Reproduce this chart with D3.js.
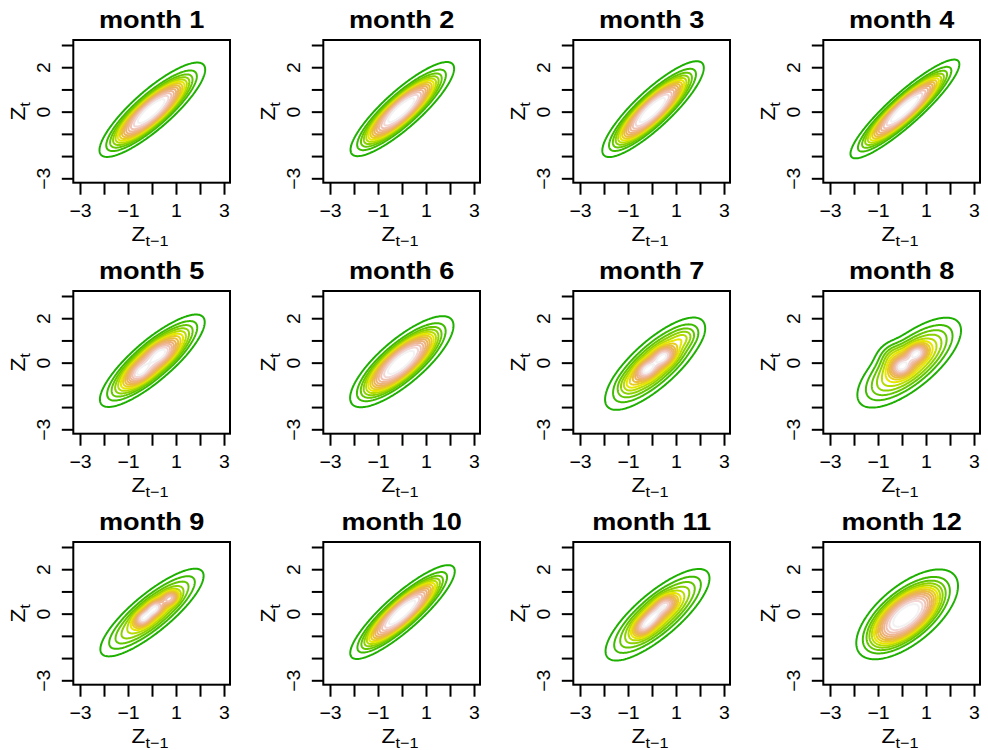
<!DOCTYPE html>
<html>
<head>
<meta charset="utf-8">
<script src="https://cdn.jsdelivr.net/npm/d3@7"></script>
<style>
  body { margin: 0; background: #fff; }
  text { font-family: "Liberation Sans", Arial, Helvetica, sans-serif; }
</style>
</head>
<body>
<div id="chart"></div>
<script>
// panel titles
const titles = d3.range(1, 13).map(m => `month ${m}`);
const axisTicks = [-3, -2, -1, 0, 1, 2, 3];
const xTickLabels = [-3, -1, 1, 3];
const yTickLabels = [-3, 0, 2];

// density of (Z_{t-1}, Z_t) for each month, read off the contours as a few bumps:
// [meanX, meanY, sdX, sdY, rho, height, power]  (power > 1 = flatter top, 1 = gaussian)
const month1 = [[-0.05, 0.00, 0.97, 0.93, 0.86, 1, 1.5], [0.10, 0.20, 1.45, 1.40, 0.84, 0.2, 1]];
const month2 = [[-0.05, 0.05, 0.95, 0.93, 0.87, 1, 1.5], [0.10, 0.20, 1.42, 1.40, 0.85, 0.2, 1]];
const month3 = [[0.00, 0.05, 0.93, 0.95, 0.87, 1, 1.5], [0.10, 0.20, 1.40, 1.42, 0.85, 0.2, 1]];
const month4 = [[0.10, 0.10, 1.00, 0.98, 0.91, 1, 1.5], [0.15, 0.15, 1.50, 1.47, 0.90, 0.2, 1]];
const month5 = [[0.00, 0.08, 1.05, 1.00, 0.84, 1, 1.5], [-0.50, -0.45, 0.35, 0.33, 0.50, 0.5, 1],
                [0.35, 0.40, 0.40, 0.35, 0.50, 0.5, 1], [0.05, 0.10, 1.52, 1.45, 0.82, 0.2, 1]];
const month6 = [[-0.05, 0.00, 0.95, 0.90, 0.80, 1, 1.5], [0.05, 0.10, 1.42, 1.36, 0.78, 0.2, 1]];
const month7 = [[0.12, -0.05, 1.10, 1.10, 0.78, 1, 1.5], [-0.22, -0.33, 0.32, 0.30, 0.40, 1.6, 1],
                [0.47, 0.27, 0.32, 0.30, 0.40, 1.6, 1], [-0.90, -0.90, 0.30, 0.30, 0.30, 0.35, 1],
                [1.30, 1.10, 0.35, 0.30, 0.40, 0.3, 1], [0.12, -0.05, 1.55, 1.55, 0.76, 0.25, 1]];
const month8 = [[0.30, 0.00, 1.12, 1.05, 0.72, 1, 1.5], [0.00, -0.18, 0.30, 0.28, 0.30, 1.4, 1],
                [0.61, 0.42, 0.28, 0.26, 0.30, 1.4, 1], [-0.45, 0.35, 0.35, 0.35, 0.20, 0.35, 1],
                [0.30, 0.00, 1.60, 1.50, 0.70, 0.25, 1]];
const month9 = [[0.00, 0.05, 1.15, 1.05, 0.84, 1, 1.5], [-0.36, -0.21, 0.25, 0.24, 0.40, 1.6, 1],
                [0.12, 0.24, 0.25, 0.24, 0.40, 1.6, 1], [0.75, 0.69, 0.22, 0.20, 0.30, 1.4, 1],
                [0.00, 0.05, 1.60, 1.50, 0.82, 0.25, 1]];
const month10 = [[0.00, 0.05, 0.96, 0.93, 0.88, 1, 1.5], [0.05, 0.10, 1.44, 1.40, 0.86, 0.2, 1]];
const month11 = [[0.23, -0.05, 1.14, 1.08, 0.80, 1, 1.5], [-0.36, -0.59, 0.28, 0.28, 0.40, 1.2, 1],
                 [0.05, -0.14, 0.28, 0.28, 0.40, 1.2, 1], [0.54, 0.39, 0.30, 0.28, 0.40, 1.3, 1],
                 [0.23, -0.05, 1.60, 1.55, 0.78, 0.25, 1]];
const month12 = [[0.15, -0.10, 0.93, 0.88, 0.64, 1, 1.5], [0.30, 0.05, 1.40, 1.35, 0.62, 0.2, 1]];
const mixtures = [month1, month2, month3, month4, month5, month6,
                  month7, month8, month9, month10, month11, month12];

const nLevels = 14;

const W = 988, H = 750;
const COL_W = 250, ROW_H = 251;
const BOX = { left: 73.3, right: 230, top: 40, bottom: 182.7 };

// R's terrain.colors(n)
function hsv(h, s, v) {
  const i = Math.floor(h * 6), f = h * 6 - i;
  const p = v * (1 - s), q = v * (1 - f * s), t = v * (1 - (1 - f) * s);
  const [r, g, b] = [[v, t, p], [q, v, p], [p, v, t], [p, q, v], [t, p, v], [v, p, q]][i % 6];
  return d3.rgb(r * 255, g * 255, b * 255).formatHex();
}
function terrainColors(n) {
  const k = Math.floor(n / 2), out = [];
  for (let i = 0; i < k; i++) {
    const t = k > 1 ? i / (k - 1) : 0;
    out.push(hsv(4 / 12 - t * 2 / 12, 1, 0.65 + t * 0.25));
  }
  for (let j = 1; j <= n - k; j++) {
    const t = j / (n - k);
    out.push(hsv(2 / 12 * (1 - t), 1 - t, 0.9 + 0.05 * t));
  }
  return out;
}
// the first colour belongs to the zero level, which never shows
const colors = terrainColors(nLevels + 1).slice(1);

function density(comps, x, y) {
  let s = 0;
  for (const [mx, my, sx, sy, r, h, p] of comps) {
    const u = (x - mx) / sx, v = (y - my) / sy;
    const q = (u * u - 2 * r * u * v + v * v) / (1 - r * r);
    s += h * Math.exp(-Math.pow(q / 2, p));
  }
  return s;
}

const x = d3.scaleLinear().domain([-3, 3]).range([80, 224]);
const y = d3.scaleLinear().domain([-3, 3]).range([178.3, 45]);
const fmt = d => d < 0 ? "\u2212" + Math.abs(d) : String(d);

// evaluation grid
const g0 = -3.4, step = 0.04, n = Math.round(6.8 / step) + 1;

const svg = d3.select("#chart").append("svg")
  .attr("width", W).attr("height", H);

mixtures.forEach((comps, idx) => {
  const col = idx % 4, row = Math.floor(idx / 4);
  const panel = svg.append("g")
    .attr("transform", `translate(${col * COL_W}, ${row * ROW_H})`);

  const values = new Float64Array(n * n);
  for (let j = 0; j < n; j++)
    for (let i = 0; i < n; i++)
      values[j * n + i] = density(comps, g0 + i * step, g0 + j * step);
  const zmax = d3.max(values);
  const levels = d3.range(1, nLevels + 1).map(i => i * zmax / (nLevels + 1));

  const contours = d3.contours().size([n, n]).thresholds(levels)(values);
  const proj = d3.geoTransform({
    point(px, py) {
      this.stream.point(x(g0 + (px - 0.5) * step), y(g0 + (py - 0.5) * step));
    }
  });
  const path = d3.geoPath(proj);

  panel.append("g")
    .selectAll("path")
    .data(contours)
    .join("path")
      .attr("d", path)
      .attr("fill", "none")
      .attr("stroke", (d, i) => colors[i])
      .attr("stroke-width", 2)
      .attr("stroke-linejoin", "round");

  // x axis
  const xAxis = panel.append("g")
    .attr("transform", `translate(0, ${BOX.bottom})`)
    .call(d3.axisBottom(x).tickValues(axisTicks).tickSize(12).tickSizeOuter(0)
      .tickFormat(d => xTickLabels.includes(d) ? fmt(d) : ""));
  xAxis.select(".domain").remove();
  xAxis.selectAll("line").attr("stroke-width", 2);
  xAxis.selectAll("text")
    .attr("y", 0).attr("dy", 0)
    .attr("transform", "translate(0, 34.3) scale(1.08, 1)")
    .attr("font-size", 18).attr("fill", "#000");

  // y axis
  const yAxis = panel.append("g")
    .attr("transform", `translate(${BOX.left}, 0)`)
    .call(d3.axisLeft(y).tickValues(axisTicks).tickSize(11.5).tickSizeOuter(0)
      .tickFormat(d => yTickLabels.includes(d) ? fmt(d) : ""));
  yAxis.select(".domain").remove();
  yAxis.selectAll("line").attr("stroke-width", 2);
  yAxis.selectAll("text")
    .attr("x", 0).attr("dy", 0)
    .attr("text-anchor", "middle")
    .attr("transform", `translate(${50 - BOX.left}, 0) rotate(-90) scale(1.08, 1)`)
    .attr("font-size", 18).attr("fill", "#000");

  // box
  panel.append("rect")
    .attr("x", BOX.left).attr("y", BOX.top)
    .attr("width", BOX.right - BOX.left).attr("height", BOX.bottom - BOX.top)
    .attr("fill", "none").attr("stroke", "#000").attr("stroke-width", 2);

  // title
  panel.append("text")
    .attr("transform", `translate(${(BOX.left + BOX.right) / 2}, 28) scale(1.13, 1)`)
    .attr("text-anchor", "middle")
    .attr("font-size", 24).attr("font-weight", "bold")
    .text(titles[idx]);

  // axis titles
  const xl = panel.append("text")
    .attr("transform", "translate(150, 241) scale(1.08, 1)")
    .attr("text-anchor", "middle")
    .attr("font-size", 21);
  xl.append("tspan").text("Z");
  xl.append("tspan").attr("dy", 5).attr("font-size", 15).text("t\u22121");

  const yl = panel.append("text")
    .attr("transform", `translate(25, ${(BOX.top + BOX.bottom) / 2}) rotate(-90) scale(1.08, 1)`)
    .attr("text-anchor", "middle")
    .attr("font-size", 21);
  yl.append("tspan").text("Z");
  yl.append("tspan").attr("dy", 5).attr("font-size", 15).text("t");
});
</script>
</body>
</html>
